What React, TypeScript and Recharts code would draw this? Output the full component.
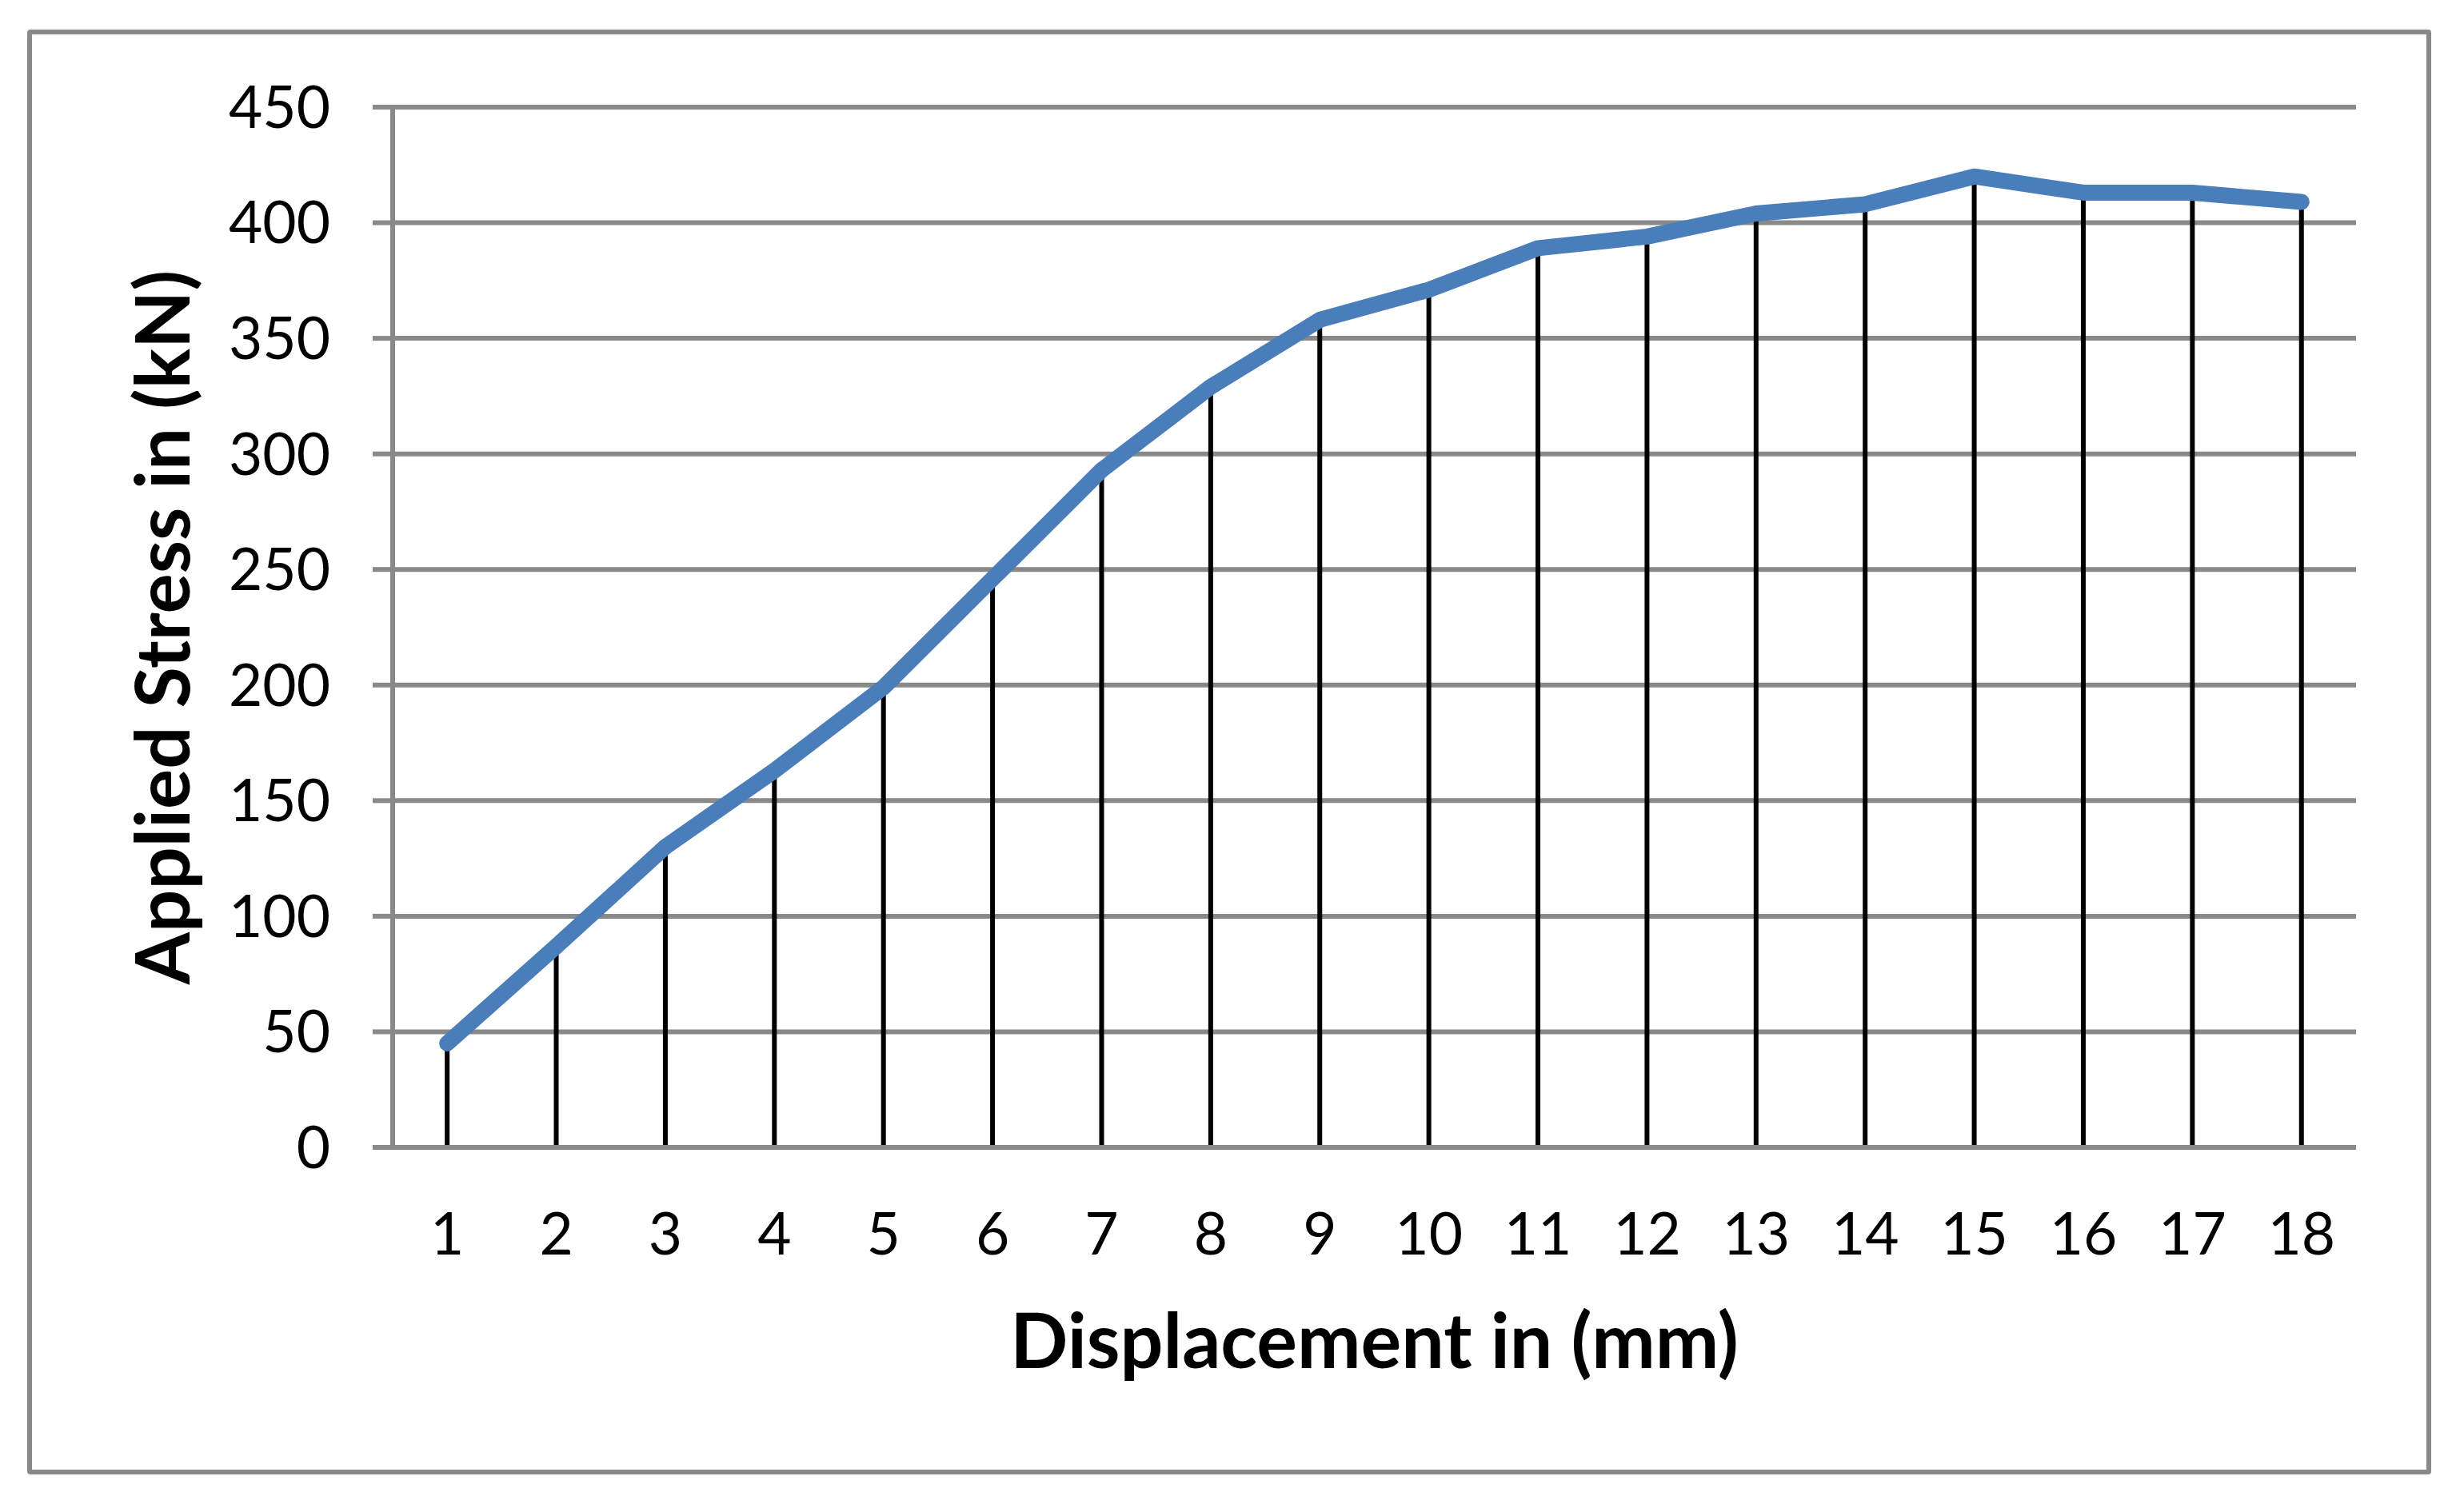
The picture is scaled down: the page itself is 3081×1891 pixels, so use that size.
import React from "react";
import {
  ComposedChart,
  Line,
  Bar,
  XAxis,
  YAxis,
  CartesianGrid,
  Label,
} from "recharts";

const displacement = ["1", "2", "3", "4", "5", "6", "7", "8", "9", "10", "11", "12", "13", "14", "15", "16", "17", "18"];
const stress = [45, 87, 130, 163, 199, 246, 293, 329, 358, 371, 389, 394, 404, 408, 420, 413, 413, 409];
const yTicks = [0, 50, 100, 150, 200, 250, 300, 350, 400, 450];

const GRID = "#898989";
const BLUE = "#4A7EBB";
const FONT = "Lato, 'Open Sans', sans-serif";

const chartData = displacement.map((d, i) => ({ mm: d, stress: stress[i] }));

// thin black drop line from the point down to zero
const DropLine = (props: any) => {
  const { x, y, width, height } = props;
  if (height == null || height <= 0) return null;
  return <rect x={x + width / 2 - 3} y={y} width={6} height={height} fill="#000" />;
};

const renderYTitle = (props: any) => {
  const { viewBox } = props;
  const cx = viewBox.x + 237;
  const cy = viewBox.y + viewBox.height / 2;
  return (
    <text
      x={cx}
      y={cy}
      textAnchor="middle"
      transform={`rotate(-90, ${cx}, ${cy})`}
      fontFamily={FONT}
      fontWeight="bold"
      fontSize={94}
      fill="#000"
    >
      Applied Stress in (kN)
    </text>
  );
};

const renderXTitle = (props: any) => {
  const { viewBox } = props;
  return (
    <text
      x={viewBox.x + viewBox.width / 2}
      y={viewBox.y + 276}
      textAnchor="middle"
      fontFamily={FONT}
      fontWeight="bold"
      fontSize={95}
      fill="#000"
    >
      Displacement in (mm)
    </text>
  );
};

export default function App() {
  return (
    <div style={{ position: "absolute", left: 0, top: 0, width: 3081, height: 1891, background: "#fff" }}>
      <div
        style={{
          position: "absolute",
          left: 34,
          top: 37,
          width: 3006,
          height: 1807,
          border: `6px solid ${GRID}`,
          borderRadius: 4,
          boxSizing: "border-box",
        }}
      />
      <div style={{ position: "absolute", left: 0, top: 0 }}>
        <ComposedChart
          width={3081}
          height={1891}
          data={chartData}
          margin={{ top: 134, right: 135, bottom: 156, left: 0 }}
        >
          <CartesianGrid vertical={false} stroke={GRID} strokeWidth={6} />
          <XAxis
            dataKey="mm"
            type="category"
            height={300}
            axisLine={{ stroke: GRID, strokeWidth: 6 }}
            tickLine={false}
            tickSize={0}
            tickMargin={82}
            interval={0}
            tick={{ fontFamily: FONT, fontSize: 73, fill: "#000" }}
          >
            <Label content={renderXTitle} />
          </XAxis>
          <YAxis
            width={491}
            domain={[0, 450]}
            ticks={yTicks}
            interval={0}
            axisLine={{ stroke: GRID, strokeWidth: 6 }}
            tickLine={{ stroke: GRID, strokeWidth: 6 }}
            tickSize={25}
            tickMargin={53}
            tick={{ fontFamily: FONT, fontSize: 73, fill: "#000" }}
          >
            <Label content={renderYTitle} />
          </YAxis>
          <Line
            dataKey="stress"
            stroke={BLUE}
            strokeWidth={20}
            strokeLinecap="round"
            strokeLinejoin="round"
            dot={false}
            activeDot={false}
            isAnimationActive={false}
          />
          <Bar dataKey="stress" shape={DropLine} isAnimationActive={false} />
        </ComposedChart>
      </div>
    </div>
  );
}
